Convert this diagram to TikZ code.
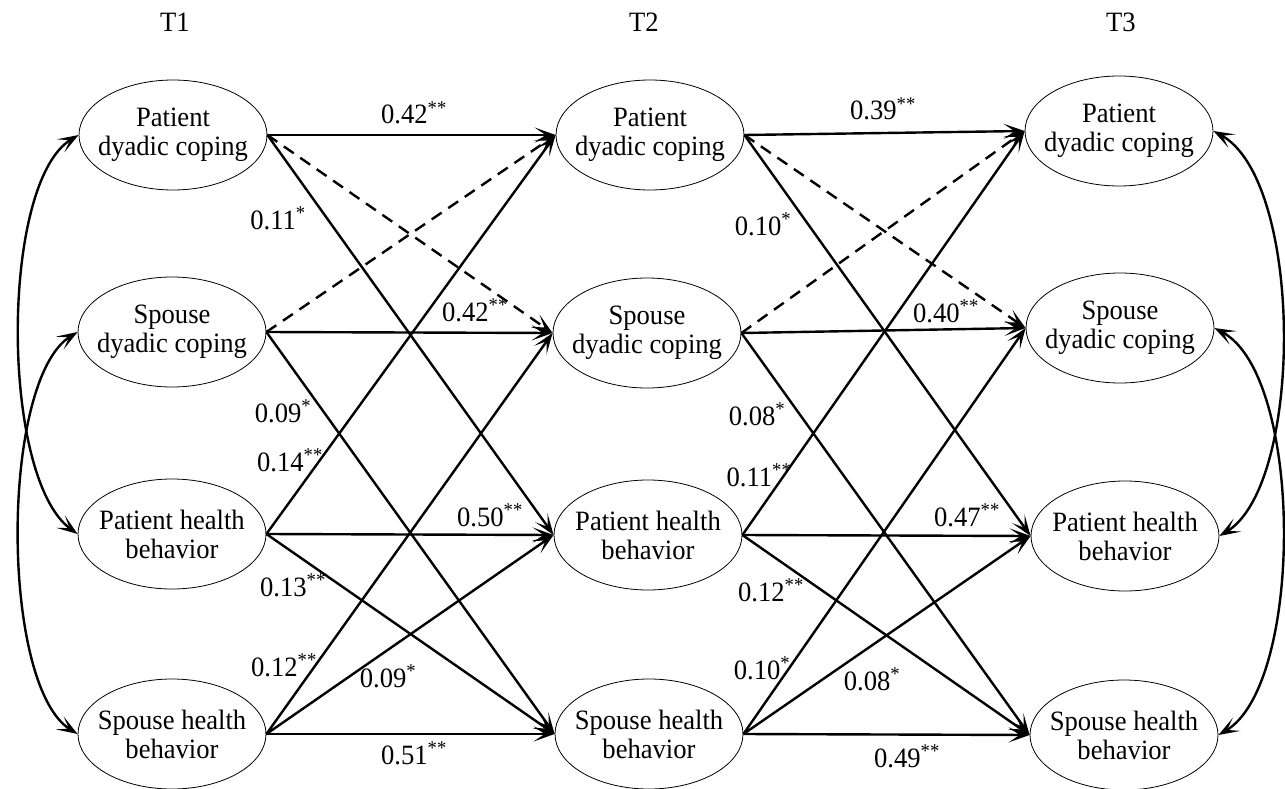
\documentclass[tikz,border=0pt]{standalone}
\usepackage{fontspec}
\setmainfont{Liberation Serif}[FakeStretch=0.95]
\usetikzlibrary{arrows.meta,shapes.geometric}
\newcommand{\twoline}[2]{\makebox[0pt]{#1}\\\makebox[0pt]{#2}}
\begin{document}
\begin{tikzpicture}[x=1pt,y=-1pt,
  lat/.style={draw, ellipse, line width=0.8pt, minimum width=188pt, minimum height=110pt, inner sep=0pt, align=center, font=\fontsize{28}{29}\selectfont},
  reg/.style={line width=2.4pt, -{Stealth[length=21pt,width=15pt,inset=11pt]}},
  nsreg/.style={reg, dash pattern=on 12pt off 8pt},
  coef/.style={anchor=base, font=\fontsize{28}{29}\selectfont, inner sep=0pt},
  cov/.style={line width=2.4pt, {Stealth[length=21pt,width=15pt,inset=11pt]}-{Stealth[length=21pt,width=15pt,inset=11pt]}},
  ttl/.style={font=\fontsize{28}{29}\selectfont, inner sep=0pt}
]
\useasboundingbox (0,0) rectangle (1285,789);
% titles
\node[ttl] (t1) at (175,22) {T1};
\node[ttl] (t2) at (644,22) {T2};
\node[ttl] (t3) at (1121,22) {T3};
% T1
\node[lat] (a1) at (173,135) {\twoline{Patient}{dyadic coping}};
\node[lat] (b1) at (172,332) {\twoline{Spouse}{dyadic coping}};
\node[lat] (c1) at (172,534) {\twoline{Patient health}{behavior}};
\node[lat] (d1) at (172,734) {\twoline{Spouse health}{behavior}};
% T2
\node[lat] (a2) at (650,135) {\twoline{Patient}{dyadic coping}};
\node[lat] (b2) at (647,333) {\twoline{Spouse}{dyadic coping}};
\node[lat] (c2) at (648,535) {\twoline{Patient health}{behavior}};
\node[lat] (d2) at (649,734) {\twoline{Spouse health}{behavior}};
% T3
\node[lat] (a3) at (1119,131) {\twoline{Patient}{dyadic coping}};
\node[lat] (b3) at (1120,328) {\twoline{Spouse}{dyadic coping}};
\node[lat] (c3) at (1125,536) {\twoline{Patient health}{behavior}};
\node[lat] (d3) at (1124,735) {\twoline{Spouse health}{behavior}};
% T1 -> T2
\draw[reg] (a1.east) -- (a2.west);
\draw[nsreg] (a1.east) -- (b2.west);
\draw[reg] (a1.east) -- (c2.west);
\draw[nsreg] (b1.east) -- (a2.west);
\draw[reg] (b1.east) -- (b2.west);
\draw[reg] (b1.east) -- (d2.west);
\draw[reg] (c1.east) -- (a2.west);
\draw[reg] (c1.east) -- (c2.west);
\draw[reg] (c1.east) -- (d2.west);
\draw[reg] (d1.east) -- (b2.west);
\draw[reg] (d1.east) -- (c2.west);
\draw[reg] (d1.east) -- (d2.west);
% T2 -> T3
\draw[reg] (a2.east) -- (a3.west);
\draw[nsreg] (a2.east) -- (b3.west);
\draw[reg] (a2.east) -- (c3.west);
\draw[nsreg] (b2.east) -- (a3.west);
\draw[reg] (b2.east) -- (b3.west);
\draw[reg] (b2.east) -- (d3.west);
\draw[reg] (c2.east) -- (a3.west);
\draw[reg] (c2.east) -- (c3.west);
\draw[reg] (c2.east) -- (d3.west);
\draw[reg] (d2.east) -- (b3.west);
\draw[reg] (d2.east) -- (c3.west);
\draw[reg] (d2.east) -- (d3.west);
% covariances
\draw[cov] (a1.west) .. controls (0,182) and (0,478) .. (c1.west);
\draw[cov] (b1.west) .. controls (0,380) and (0,686) .. (d1.west);
\draw[cov] (a3.east) .. controls (1304,180) and (1304,485) .. (c3.east);
\draw[cov] (b3.east) .. controls (1304,375) and (1304,685) .. (d3.east);
% coefficients T1 -> T2
\node[coef] (k1) at (414,124) {0.42\textsuperscript{**}};
\node[coef] (k2) at (278,229) {0.11\textsuperscript{*}};
\node[coef] (k3) at (283,422) {0.09\textsuperscript{*}};
\node[coef] (k4) at (290,471) {0.14\textsuperscript{**}};
\node[coef] (k5) at (475,321) {0.42\textsuperscript{**}};
\node[coef] (k6) at (490,526) {0.50\textsuperscript{**}};
\node[coef] (k7) at (293,596) {0.13\textsuperscript{**}};
\node[coef] (k8) at (284,676) {0.12\textsuperscript{**}};
\node[coef] (k9) at (388,687) {0.09\textsuperscript{*}};
\node[coef] (k10) at (414,764) {0.51\textsuperscript{**}};
% coefficients T2 -> T3
\node[coef] (m1) at (883,120) {0.39\textsuperscript{**}};
\node[coef] (m2) at (763,235) {0.10\textsuperscript{*}};
\node[coef] (m3) at (946,322) {0.40\textsuperscript{**}};
\node[coef] (m4) at (757,425) {0.08\textsuperscript{*}};
\node[coef] (m5) at (759,486) {0.11\textsuperscript{**}};
\node[coef] (m6) at (967,526) {0.47\textsuperscript{**}};
\node[coef] (m7) at (771,601) {0.12\textsuperscript{**}};
\node[coef] (m8) at (762,679) {0.10\textsuperscript{*}};
\node[coef] (m9) at (872,690) {0.08\textsuperscript{*}};
\node[coef] (m10) at (907,767) {0.49\textsuperscript{**}};
\end{tikzpicture}
\end{document}
